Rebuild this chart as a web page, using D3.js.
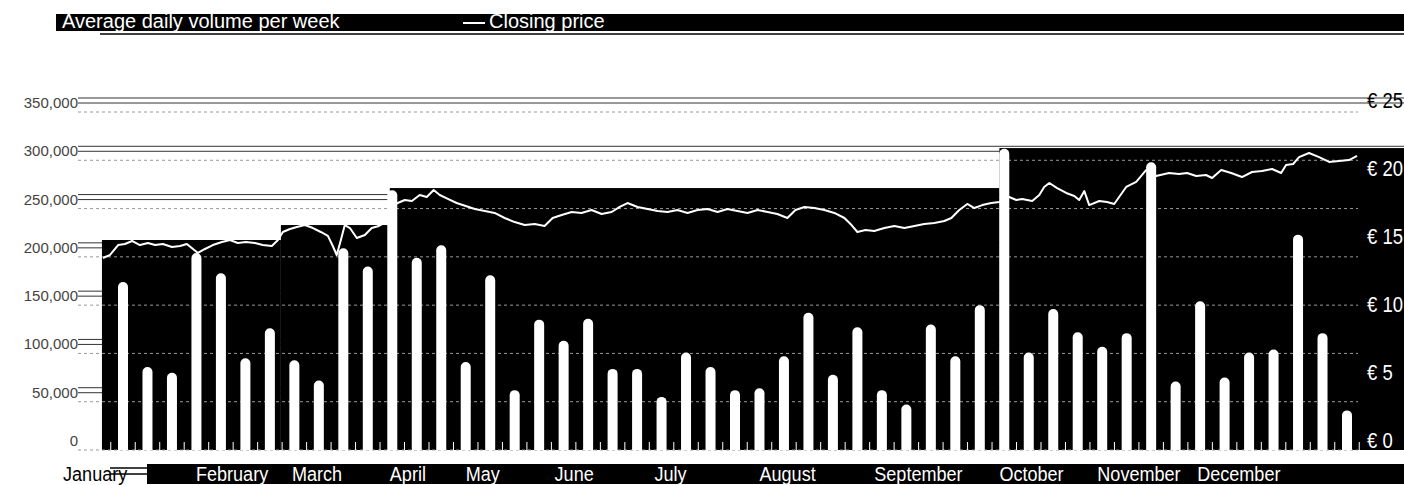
<!DOCTYPE html>
<html><head><meta charset="utf-8">
<script src="https://cdn.jsdelivr.net/npm/d3@7"></script>
<style>
html,body{margin:0;padding:0;background:#fff;}
svg{display:block;}
</style></head><body>
<svg id="chart" width="1404" height="485"></svg>
<script>
// Average daily traded volume, one value per week
const weeklyVolume = [
  174000, 86000, 80000, 204000, 183000, 95000, 126000, 93000, 72000, 209000,
  190000, 269000, 199000, 212000, 91000, 181000, 62000, 135000, 113000, 136000,
  84000, 84000, 55000, 101000, 86000, 62000, 64000, 97000, 142000, 78000,
  127000, 62000, 47000, 130000, 97000, 150000, 312000, 101000, 146000, 122000,
  107000, 121000, 298000, 71000, 154000, 75000, 101000, 104000, 223000, 121000,
  41000
];

// Closing price, position expressed in weeks from the first week
const priceWeek = [
  -0.82,-0.53,-0.20,0.08,0.37,0.69,1.02,1.31,1.63,2.00,2.33,2.61,2.86,3.06,3.35,3.67,
  4.04,4.37,4.69,5.02,5.39,5.71,6.08,6.33,6.53,6.82,7.10,7.43,7.76,8.08,8.37,8.57,
  8.73,8.90,9.06,9.27,9.55,9.88,10.16,10.45,10.73,10.98,11.22,11.51,11.80,12.12,12.41,12.69,
  12.94,13.27,13.63,14.00,14.37,14.78,15.18,15.59,16.00,16.41,16.82,17.22,17.55,17.92,18.33,18.73,
  19.14,19.55,19.96,20.29,20.61,21.02,21.43,21.84,22.24,22.65,23.06,23.47,23.88,24.29,24.69,25.10,
  25.51,25.92,26.33,26.73,27.14,27.47,27.84,28.24,28.65,29.06,29.47,29.76,30.00,30.33,30.69,31.10,
  31.51,31.92,32.33,32.73,33.14,33.55,33.84,34.16,34.49,34.78,35.10,35.47,35.80,36.20,36.49,36.73,
  37.14,37.43,37.63,37.84,38.16,38.53,38.86,39.06,39.27,39.47,39.88,40.20,40.49,40.98,41.39,41.80,
  42.20,42.73,43.14,43.47,43.84,44.24,44.49,44.86,45.27,45.71,46.12,46.53,46.94,47.31,47.51,47.80,
  48.04,48.45,48.86,49.27,49.67,50.08,50.41
];
const priceClose = [
  14.12,14.34,15.07,15.15,15.37,15.07,15.22,15.07,15.15,14.93,15.00,15.15,14.78,14.49,14.78,15.07,
  15.29,15.44,15.22,15.29,15.22,15.07,15.00,15.44,16.03,16.25,16.40,16.54,16.32,16.03,15.74,15.00,
  14.34,15.44,16.54,16.32,15.59,15.81,16.32,16.47,16.76,17.94,18.16,18.38,18.31,18.75,18.60,19.12,
  18.75,18.46,18.16,17.94,17.72,17.57,17.43,17.06,16.76,16.54,16.62,16.47,17.06,17.28,17.50,17.43,
  17.65,17.35,17.50,17.87,18.16,17.87,17.72,17.57,17.50,17.65,17.43,17.65,17.72,17.50,17.72,17.57,
  17.43,17.65,17.50,17.35,17.06,17.65,17.87,17.79,17.65,17.43,17.06,16.54,16.03,16.18,16.10,16.32,
  16.47,16.32,16.47,16.62,16.69,16.84,17.06,17.65,18.09,17.79,18.01,18.16,18.24,18.60,18.38,18.46,
  18.31,18.75,19.34,19.63,19.26,18.90,18.68,18.38,19.04,18.01,18.31,18.24,18.09,19.34,19.71,20.59,
  20.15,20.37,20.29,20.37,20.15,20.22,20.00,20.59,20.37,20.07,20.44,20.51,20.66,20.37,20.96,21.03,
  21.54,21.84,21.54,21.18,21.25,21.32,21.62
];

// Highest closing price per period (Jan–Feb, Mar, Apr–Sep, Oct–Dec)
const periodStart = [-0.86, 6.45, 10.9, 35.8];
const periodEnd   = [6.45, 10.9, 35.8, 52.4];
const periodHigh  = [15.44, 16.54, 19.26, 22.2];

const months = ["January","February","March","April","May","June","July",
                "August","September","October","November","December"];
const monthWeek = [-2.45, 2.98, 6.9, 10.9, 14.0, 17.63, 21.71, 26.0, 30.69, 35.8, 39.8, 43.88];

const volumeTicks = [0, 50000, 100000, 150000, 200000, 250000, 300000, 350000];
const priceTicks = [0, 5, 10, 15, 20, 25];

const legendLabels = ["Average daily volume per week", "Closing price"];

const svg = d3.select("#chart");
const regular = "'Liberation Sans',Arial,sans-serif";

const x = d3.scaleLinear().domain([0, 50]).range([123, 1347]);
const yVol = d3.scaleLinear().domain([0, 350000]).range([450, 112]);
const yPrice = d3.scaleLinear().domain([0, 25]).range([450, 110]);
const base = yVol(0);

// label rows of the volume axis, carried across the width
const rows = svg.append("g");
volumeTicks.slice(1).forEach(t => {
  [-14, -9].forEach(off => {
    rows.append("line")
      .attr("x1", 78).attr("x2", 1404)
      .attr("y1", yVol(t) + off).attr("y2", yVol(t) + off)
      .attr("stroke", "#333").attr("stroke-width", 1);
  });
});

// period high blocks
const periods = periodHigh.map((h, i) => ({ s: periodStart[i], e: periodEnd[i], h }));
svg.append("g").selectAll("rect").data(periods).join("rect")
  .attr("x", d => x(d.s))
  .attr("width", d => x(d.e) - x(d.s))
  .attr("y", d => yPrice(d.h))
  .attr("height", d => base - yPrice(d.h))
  .attr("fill", "#000");

// volume gridlines
svg.append("g").selectAll("line").data(volumeTicks).join("line")
  .attr("x1", 78).attr("x2", 1358)
  .attr("y1", d => yVol(d)).attr("y2", d => yVol(d))
  .attr("stroke", "#9a9a9a").attr("stroke-width", 1)
  .attr("stroke-dasharray", "3,3");

// volume axis labels
svg.append("g").selectAll("text").data(volumeTicks).join("text")
  .attr("x", 78).attr("y", d => yVol(d) - 4)
  .attr("text-anchor", "end")
  .attr("font-family", regular).attr("font-size", 15)
  .attr("fill", "#444")
  .text(d => d3.format(",")(d));

// week ticks along the base
const weekEdges = d3.range(-1, 51).map(i => i + 0.5);
svg.append("g").selectAll("line").data(weekEdges).join("line")
  .attr("x1", d => x(d)).attr("x2", d => x(d))
  .attr("y1", base).attr("y2", base - 8)
  .attr("stroke", "#fff").attr("stroke-width", 1);

// weekly volume bars with rounded tops
const barW = 10, r = 5;
svg.append("g").selectAll("path").data(weeklyVolume).join("path")
  .attr("fill", "#fff")
  .attr("d", (v, i) => {
    const cx = x(i), top = yVol(v);
    return `M${cx - barW / 2},${base}V${top + r}A${r},${r} 0 0 1 ${cx + barW / 2},${top + r}V${base}Z`;
  });

// closing price line
const pricePts = priceWeek.map((w, i) => ({ w, p: priceClose[i] }));
svg.append("path").datum(pricePts)
  .attr("fill", "none").attr("stroke", "#fff").attr("stroke-width", 2)
  .attr("stroke-linejoin", "round")
  .attr("d", d3.line().x(d => x(d.w)).y(d => yPrice(d.p)));

// price axis labels (condensed)
svg.append("g").selectAll("text").data(priceTicks).join("text")
  .attr("transform", d => `translate(1367,${yPrice(d) - 2}) scale(0.84,1)`)
  .attr("font-family", regular).attr("font-size", 22)
  .attr("fill", d => d === 25 ? "#000" : "#fff")
  .text(d => `€ ${d}`);

// legend band
svg.append("rect").attr("x", 56).attr("y", 14).attr("width", 1348).attr("height", 17).attr("fill", "#000");
svg.append("line").attr("x1", 100).attr("x2", 1404).attr("y1", 34).attr("y2", 34)
  .attr("stroke", "#000").attr("stroke-width", 1.5);
svg.append("text").attr("x", 62).attr("y", 28)
  .attr("font-family", regular).attr("font-size", 20).attr("fill", "#fff")
  .text(legendLabels[0]);
svg.append("line").attr("x1", 463).attr("x2", 485).attr("y1", 23).attr("y2", 23)
  .attr("stroke", "#fff").attr("stroke-width", 2);
svg.append("text").attr("x", 489).attr("y", 28)
  .attr("font-family", regular).attr("font-size", 20).attr("fill", "#fff")
  .text(legendLabels[1]);

// month band
svg.append("rect").attr("x", 147).attr("y", 464).attr("width", 1257).attr("height", 20).attr("fill", "#000");
[468, 474].forEach(yy => svg.append("line").attr("x1", 110).attr("x2", 147)
  .attr("y1", yy).attr("y2", yy).attr("stroke", "#000").attr("stroke-width", 1.5));
svg.append("g").selectAll("text").data(months).join("text")
  .attr("transform", (d, i) => `translate(${x(monthWeek[i])},481) scale(0.86,1)`)
  .attr("font-family", regular).attr("font-size", 21)
  .attr("fill", (d, i) => i === 0 ? "#000" : "#fff")
  .text(d => d);
</script>
</body></html>
